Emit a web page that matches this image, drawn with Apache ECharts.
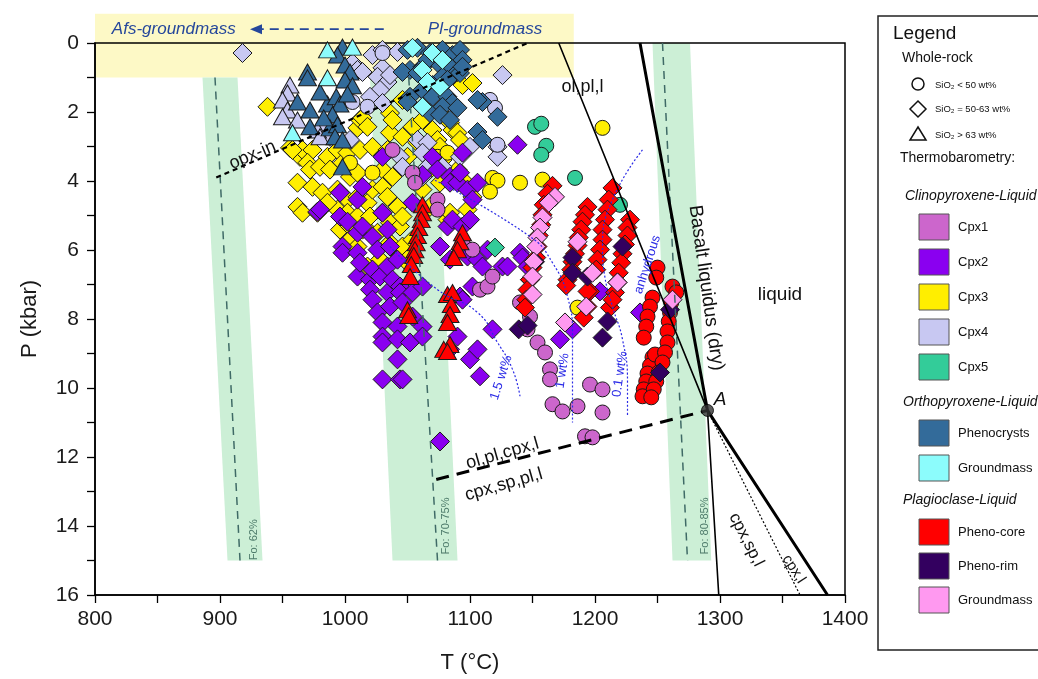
<!DOCTYPE html>
<html><head><meta charset="utf-8">
<script src="https://cdn.jsdelivr.net/npm/echarts@6/dist/echarts.min.js"></script>
<style>html,body{margin:0;padding:0;background:#fff}#c{width:1038px;height:679px}</style>
</head><body><div id="c"></div>
<script>
// ---------------- DATA (T in °C, P in kbar) ----------------
const xTickValues = [800, 900, 1000, 1100, 1200, 1300, 1400];
const yTickValues = [0, 2, 4, 6, 8, 10, 12, 14, 16];

// Clinopyroxene-liquid
const cpx1Circle = [[1038,3.10],[1054,3.76],[1056,4.05],[1074,4.54],[1074,4.83],[1094,5.79],[1102,5.99],[1108,7.15],[1114,7.06],[1118,6.77],[1140,7.52],[1148,7.93],[1146,8.30],[1154,8.68],[1160,8.97],[1164,9.46],[1164,9.75],[1166,10.47],[1174,10.68],[1186,10.53],[1196,9.90],[1206,10.04],[1206,10.71],[1192,11.40],[1198,11.43]];
const cpx2Diamond = [[978,4.89],[980,4.83],[996,4.34],[996,5.03],[998,5.90],[998,6.08],[1002,5.18],[1010,4.54],[1010,5.50],[1010,6.08],[1010,6.77],[1012,6.37],[1014,4.17],[1014,5.32],[1020,6.86],[1020,7.15],[1022,5.61],[1022,6.57],[1022,7.44],[1026,5.99],[1026,7.81],[1028,6.77],[1030,3.30],[1030,4.92],[1030,8.10],[1030,8.51],[1030,8.68],[1030,9.75],[1034,5.41],[1034,6.48],[1034,7.23],[1036,5.90],[1036,7.64],[1038,6.86],[1042,6.28],[1042,8.22],[1042,8.59],[1042,9.17],[1044,7.06],[1044,7.23],[1044,9.75],[1046,7.52],[1052,8.68],[1054,4.63],[1054,7.23],[1054,7.93],[1062,3.82],[1062,7.06],[1062,8.22],[1062,8.51],[1070,3.30],[1074,3.67],[1076,5.90],[1076,11.55],[1082,5.32],[1084,3.88],[1084,4.05],[1084,6.28],[1084,8.88],[1086,5.12],[1090,4.05],[1090,8.51],[1092,3.76],[1092,7.35],[1094,3.18],[1094,5.32],[1094,7.44],[1098,4.25],[1098,6.19],[1100,5.12],[1100,9.17],[1102,4.54],[1102,7.06],[1106,4.05],[1106,6.28],[1106,8.88],[1108,9.66],[1110,6.48],[1114,5.99],[1118,8.30],[1126,6.48],[1130,6.48],[1138,2.95],[1140,6.08],[1142,6.22],[1146,6.48],[1148,6.86],[1172,8.59],[1182,8.30],[1204,7.20],[1236,7.81],[1046,9.75]];
const cpx3Diamond = [[938,1.85],[956,3.04],[964,3.30],[962,4.05],[962,4.75],[966,4.92],[966,3.10],[974,3.10],[970,3.47],[972,3.67],[974,4.17],[978,4.92],[980,3.59],[982,4.34],[986,3.30],[988,3.67],[994,3.10],[994,4.25],[994,4.83],[996,5.41],[998,3.47],[1002,3.18],[1002,4.54],[1002,4.92],[1004,3.88],[1004,5.32],[1004,5.70],[1010,2.46],[1010,3.76],[1010,4.46],[1010,5.03],[1010,5.90],[1012,2.23],[1012,3.10],[1014,2.17],[1014,5.41],[1018,2.43],[1018,4.63],[1018,5.41],[1018,6.48],[1020,5.03],[1022,3.01],[1022,4.25],[1026,5.50],[1028,6.28],[1030,3.67],[1030,4.17],[1030,4.92],[1034,3.10],[1034,4.46],[1036,2.03],[1036,2.60],[1036,5.21],[1036,5.79],[1038,2.23],[1038,3.88],[1042,4.75],[1042,6.08],[1044,5.32],[1044,6.19],[1046,1.65],[1046,2.72],[1046,3.59],[1046,5.03],[1046,5.90],[1050,3.30],[1050,6.37],[1052,6.19],[1054,2.43],[1054,5.70],[1058,2.89],[1058,3.96],[1062,2.23],[1062,4.25],[1068,3.67],[1068,4.75],[1070,2.52],[1074,2.81],[1076,3.01],[1076,4.05],[1078,3.39],[1082,2.23],[1082,5.12],[1084,2.31],[1084,4.92],[1086,2.52],[1090,2.60],[1090,3.67],[1092,2.81],[1094,1.22],[1094,3.96],[1098,4.83],[1102,1.16],[1102,4.46],[986,4.63],[958,3.10]];
const cpx3Circle = [[1206,2.46],[1158,3.96],[1140,4.05],[1118,3.91],[1122,3.99],[1116,4.31],[1074,3.30],[1022,3.76],[1004,3.47],[1186,7.67],[1082,3.18]];
const cpx4Diamond = [[918,0.29],[1006,0.58],[1010,0.78],[1014,0.84],[1022,0.35],[1030,0.20],[1042,0.26],[1030,0.72],[1026,0.98],[1034,1.13],[1036,0.93],[1028,1.36],[1020,1.56],[1030,1.74],[1126,0.93],[1058,2.81],[1066,2.89],[1062,3.18],[1066,3.59],[1062,3.88],[1044,3.30],[1046,3.59],[1078,3.59],[1092,3.30],[1100,3.01],[1122,3.01],[1122,3.30],[1004,2.81],[982,2.52],[988,2.72]];
const cpx4Circle = [[1030,0.29],[1006,1.71],[1018,1.85],[1116,1.65],[1120,1.88],[1122,2.95]];
const cpx4Triangle = [[956,1.22],[954,1.45],[950,1.65],[954,1.94],[950,2.14],[962,2.23],[978,2.52],[980,2.72]];
const cpx5Circle = [[1152,2.43],[1157,2.34],[1161,2.98],[1157,3.24],[1184,3.91],[1220,4.69]];
const cpx5Diamond = [[1120,5.93]];

// Orthopyroxene-liquid
const opxPhenoTriangle = [[998,0.12],[994,0.35],[1000,0.64],[1004,0.84],[970,0.84],[970,1.01],[1000,1.07],[1006,1.24],[962,1.71],[972,1.94],[986,1.77],[993,1.56],[996,1.77],[1002,1.48],[990,2.08],[988,2.46],[994,2.37],[992,2.72],[998,2.81],[972,2.43],[998,3.59],[980,1.42],[983,2.17]];
const opxPhenoDiamond = [[1050,0.20],[1058,0.14],[1068,0.29],[1078,0.20],[1086,0.35],[1092,0.20],[1094,0.49],[1052,0.78],[1046,0.84],[1062,0.69],[1076,0.64],[1084,0.69],[1090,0.84],[1078,0.98],[1070,1.22],[1062,1.36],[1052,1.56],[1070,1.56],[1082,1.56],[1086,1.74],[1078,1.85],[1062,1.85],[1068,2.03],[1076,2.08],[1084,2.23],[1090,1.88],[1050,1.71],[1058,0.87],[1066,0.49],[1092,0.87],[1082,1.07],[1110,1.71],[1106,1.65],[1122,2.14],[1106,2.58],[1110,2.81],[1094,0.69]];
const opxGmTriangle = [[986,0.20],[986,1.01],[958,2.60],[1006,0.12]];
const opxGmDiamond = [[1070,0.29],[1078,0.49],[1062,0.78],[1066,1.13],[1076,1.27],[1062,1.85],[1054,0.14]];

// Plagioclase-liquid
const plCoreTriangle = [[1062,4.69],[1062,4.92],[1061,5.12],[1059,5.35],[1058,5.58],[1057,5.79],[1056,5.99],[1055,6.16],[1053,6.42],[1052,6.77],[1050,7.73],[1051,7.90],[1094,5.50],[1092,5.76],[1090,5.99],[1087,6.22],[1082,7.29],[1086,7.23],[1085,7.58],[1084,7.87],[1082,8.10],[1084,8.74],[1079,8.88],[1082,8.94]];
const plCoreDiamond = [[1166,4.14],[1162,4.37],[1159,4.69],[1158,4.98],[1157,5.27],[1155,5.58],[1154,5.90],[1153,6.22],[1150,6.51],[1148,6.86],[1146,7.15],[1145,7.44],[1144,7.67],[1194,4.75],[1192,4.98],[1190,5.18],[1189,5.41],[1187,5.64],[1186,5.87],[1184,6.11],[1182,6.34],[1181,6.57],[1178,6.86],[1177,7.03],[1196,7.20],[1194,7.64],[1191,7.96],[1214,4.20],[1211,4.54],[1210,4.83],[1208,5.12],[1206,5.41],[1206,5.70],[1204,5.99],[1202,6.28],[1201,6.57],[1194,7.20],[1212,7.67],[1228,5.12],[1226,5.35],[1226,5.58],[1224,5.84],[1222,6.11],[1221,6.37],[1219,6.66],[1218,6.94],[1216,7.23],[1214,7.44]];
const plCoreCircle = [[1250,6.51],[1249,6.80],[1246,7.38],[1244,7.64],[1242,7.93],[1241,8.22],[1239,8.54],[1246,9.11],[1244,9.35],[1242,9.58],[1241,9.81],[1239,10.04],[1238,10.24],[1248,9.03],[1262,7.06],[1265,7.23],[1261,7.52],[1260,7.81],[1259,8.07],[1258,8.36],[1258,8.68],[1256,8.97],[1254,9.26],[1251,9.55],[1249,9.81],[1247,10.04],[1245,10.27]];
const plRimDiamond = [[1152,6.34],[1139,8.30],[1146,8.19],[1182,6.22],[1182,6.66],[1194,6.77],[1210,8.07],[1206,8.54],[1222,5.90],[1260,7.73],[1252,9.55]];
const plGmDiamond = [[1168,4.46],[1163,4.63],[1158,5.06],[1156,5.35],[1154,5.64],[1153,5.90],[1151,6.34],[1150,6.77],[1150,7.29],[1176,8.10],[1186,5.76],[1198,6.66],[1193,7.64],[1218,6.94],[1262,7.44]];

// Phase boundaries and isopleths
const olPlBoundary = [[1171,0],[1290,10.65],[1299,16]];
const basaltLiquidus = [[1236,0],[1290,10.65],[1386,16]];
const cpxLiquidDotted = [[1290,10.65],[1364,16]];
const spinelInBoundary = [[1073,12.65],[1290,10.65]];
const opxIn = [[897,3.9],[1146,0]];
const pointA = [[1290,10.65]];
const h2o15 = [[1036,5.9],[1074,7.15],[1106,7.81],[1122,8.68],[1134,9.46],[1140,10.24]];
const h2o1 = [[1072,3.98],[1148,5.61],[1166,6.37],[1178,7.35],[1182,8.51],[1182,11.0]];
const h2o01 = [[1238,3.1],[1214,4.54],[1206,5.9],[1208,6.8],[1214,7.64],[1222,8.59],[1226,9.84],[1226,10.82]];
const foBands = [
  {label:'Fo: 62%',    poly:[[886,1],[914,1],[934,15],[906,15]],     mid:[[896,1],[916,15]]},
  {label:'Fo: 70-75%', poly:[[1020,1],[1072,1],[1090,15],[1038,15]], mid:[[1051,1],[1074,15]]},
  {label:'Fo: 80-85%', poly:[[1246,0],[1276,0],[1293,15],[1262,15]], mid:[[1254,0],[1274,15]]}
];
const groundmassBox = [[800,-0.85],[1183,1.0]];

// ---------------- STYLE ----------------
const FONT = 'Liberation Sans, Arial, sans-serif';
const C = {
  cpx1:'#cc66cc', cpx2:'#8a00f0', cpx3:'#ffee00', cpx4:'#c8c8f2', cpx5:'#33cc99',
  opxP:'#336b9a', opxG:'#8cfcfc', plC:'#ff0000', plR:'#33005f', plG:'#ff99f0'
};
const SZ = {circle:15, diamond:19, triangle:[18,16]};

function scat(data, shape, color){
  return {type:'scatter', data:data, symbol:shape, symbolSize:SZ[shape],
    itemStyle:{color:color, borderColor:'#1a1a1a', borderWidth:1, opacity:1},
    emphasis:{disabled:true}, z:3, animation:false};
}
function line(data, color, width, type, smooth){
  return {type:'line', data:data, showSymbol:false, symbol:'none', smooth:smooth||false,
    lineStyle:{color:color, width:width, type:type}, z:4, animation:false, silent:true};
}

const series = [
  line(foBands[0].mid,'#3f6a66',1.5,[8,6]),
  line(foBands[1].mid,'#3f6a66',1.5,[8,6]),
  line(foBands[2].mid,'#3f6a66',1.5,[8,6]),
  line(h2o15,'#2b2be6',1.2,[2,2],0.5),
  line(h2o1,'#2b2be6',1.2,[2,2],0.5),
  line(h2o01,'#2b2be6',1.2,[2,2],0.5),
  line(opxIn,'#000',2.2,[5,4]),
  scat(cpx3Diamond,'diamond',C.cpx3),
  scat(cpx3Circle,'circle',C.cpx3),
  scat(cpx4Diamond,'diamond',C.cpx4),
  scat(cpx4Circle,'circle',C.cpx4),
  scat(cpx4Triangle,'triangle',C.cpx4),
  scat(cpx2Diamond,'diamond',C.cpx2),
  scat(cpx1Circle,'circle',C.cpx1),
  scat(cpx5Circle,'circle',C.cpx5),
  scat(cpx5Diamond,'diamond',C.cpx5),
  scat(opxPhenoDiamond,'diamond',C.opxP),
  scat(opxPhenoTriangle,'triangle',C.opxP),
  scat(opxGmDiamond,'diamond',C.opxG),
  scat(opxGmTriangle,'triangle',C.opxG),
  scat(plCoreTriangle,'triangle',C.plC),
  scat(plCoreDiamond,'diamond',C.plC),
  scat(plCoreCircle,'circle',C.plC),
  scat(plRimDiamond,'diamond',C.plR),
  scat(plGmDiamond,'diamond',C.plG),
  line(olPlBoundary,'#000',1.6,'solid'),
  line(basaltLiquidus,'#000',3,'solid'),
  line(cpxLiquidDotted,'#000',1.2,[2,2]),
  line(spinelInBoundary,'#000',3,[13,8]),
  {type:'scatter', data:pointA, symbol:'circle', symbolSize:12, itemStyle:{color:'#333', borderColor:'#000', borderWidth:1}, z:6, animation:false, silent:true}
];

function axisCommon(margin){
  return {
    axisLine:{show:true, onZero:false, lineStyle:{color:'#000', width:1.5}},
    axisTick:{show:true, inside:false, length:8, lineStyle:{color:'#000', width:1.3}},
    minorTick:{show:true, splitNumber:2, length:8, lineStyle:{color:'#000', width:1.3}},
    splitLine:{show:false}, minorSplitLine:{show:false},
    axisLabel:{color:'#1a1a1a', fontSize:21, fontFamily:FONT, margin:margin, formatter:v=>String(v)},
    nameTextStyle:{color:'#1a1a1a', fontSize:22, fontFamily:FONT}
  };
}

const option = {
  animation:false,
  backgroundColor:'#fff',
  grid:{left:95, right:193, top:43, bottom:83, show:true, borderColor:'#000', borderWidth:1.5, backgroundColor:'transparent'},
  xAxis:Object.assign({type:'value', min:800, max:1400, interval:100, name:'T (°C)', nameLocation:'middle', nameGap:57}, axisCommon(14)),
  yAxis:Object.assign({type:'value', min:0, max:16, interval:2, inverse:true, name:'P (kbar)', nameLocation:'middle', nameGap:54}, axisCommon(16)),
  series:series
};

const chart = echarts.init(document.getElementById('c'), null, {renderer:'canvas'});
chart.setOption(option);

// ---------------- ANNOTATIONS & LEGEND ----------------
const px = p => chart.convertToPixel({gridIndex:0}, p);
const g = [];
(function(){
  const a = px(groundmassBox[0]), b = px(groundmassBox[1]);
  g.push({type:'rect', z:-1, silent:true, shape:{x:a[0], y:a[1], width:b[0]-a[0], height:b[1]-a[1]}, style:{fill:'#fdf9c6'}});
})();
foBands.forEach(b=>{
  g.push({type:'polygon', z:-1, silent:true, shape:{points:b.poly.map(px)}, style:{fill:'#ccefd6'}});
});
function txt(p, text, opt){
  const q = px(p);
  g.push({type:'text', z:50, silent:true, x:q[0], y:q[1], rotation:(opt.rot||0)*Math.PI/180,
    style:{text:text, fill:opt.color||'#111', font:(opt.italic?'italic ':'')+(opt.size||18)+'px '+FONT, align:'center', verticalAlign:'middle'}});
}
txt([927,14.4], 'Fo: 62%', {size:11, color:'#4d7a6a', rot:90});
txt([1081,14.0], 'Fo: 70-75%', {size:11, color:'#4d7a6a', rot:90});
txt([1288,14.0], 'Fo: 80-85%', {size:11, color:'#4d7a6a', rot:90});
txt([1190,1.27], 'ol,pl,l', {size:18});
txt([1289,7.1], 'Basalt liquidus (dry)', {size:19, rot:-82});
txt([1348,7.3], 'liquid', {size:19});
txt([1300,10.33], 'A', {size:19, italic:true});
txt([1126,11.9], 'ol,pl,cpx,l', {size:18, rot:16});
txt([1127,12.8], 'cpx,sp,pl,l', {size:18, rot:16});
txt([1321,14.4], 'cpx,sp,l', {size:17, rot:-63});
txt([1359,15.25], 'cpx,l', {size:15, rot:-57});
txt([926,3.25], 'opx-in', {size:18, rot:23});
txt([1125,9.7], '1.5 wt%', {size:13, color:'#2b2be6', rot:72});
txt([1174,9.5], '1 wt%', {size:13, color:'#2b2be6', rot:82});
txt([1220,9.6], '0.1 wt%', {size:13, color:'#2b2be6', rot:82});
txt([1242,6.42], 'anhydrous', {size:13, color:'#2b2be6', rot:72});
txt([863,-0.4], 'Afs-groundmass', {size:17, color:'#25479b', italic:true});
txt([1112,-0.4], 'Pl-groundmass', {size:17, color:'#25479b', italic:true});
(function(){
  const a = px([1031,-0.4]), b = px([924,-0.4]);
  g.push({type:'line', z:50, silent:true, shape:{x1:a[0], y1:a[1], x2:b[0]+8, y2:b[1]}, style:{stroke:'#25479b', lineWidth:1.8, lineDash:[9,6]}});
  g.push({type:'polygon', z:50, silent:true, shape:{points:[[b[0],b[1]],[b[0]+12,b[1]-5],[b[0]+12,b[1]+5]]}, style:{fill:'#25479b'}});
})();

// Legend (fixed layout box on the right)
const LX = 878, LY = 16;
g.push({type:'rect', z:20, silent:true, shape:{x:LX, y:LY, width:200, height:634}, style:{fill:'#fff', stroke:'#222', lineWidth:1.5}});
function ltxt(x,y,text,size,italic){
  g.push({type:'text', z:21, silent:true, x:x, y:y, style:{text:text, fill:'#111', font:(italic?'italic ':'')+size+'px '+FONT, align:'left', verticalAlign:'middle'}});
}
ltxt(893,34,'Legend',19);
ltxt(902,58,'Whole-rock',14);
g.push({type:'circle', z:21, silent:true, shape:{cx:918, cy:84, r:6}, style:{fill:'#fff', stroke:'#111', lineWidth:1.5}});
ltxt(935,85,'SiO₂ < 50 wt%',9.5);
g.push({type:'polygon', z:21, silent:true, shape:{points:[[918,101],[926,109],[918,117],[910,109]]}, style:{fill:'#fff', stroke:'#111', lineWidth:1.5}});
ltxt(935,109,'SiO₂ = 50-63 wt%',9.5);
g.push({type:'polygon', z:21, silent:true, shape:{points:[[918,127],[926,140],[910,140]]}, style:{fill:'#fff', stroke:'#111', lineWidth:1.5}});
ltxt(935,135,'SiO₂ > 63 wt%',9.5);
ltxt(900,158,'Thermobarometry:',14);
ltxt(905,196,'Clinopyroxene-Liquid',14,true);
const legendRows = [
  ['Cpx1',C.cpx1,227],['Cpx2',C.cpx2,262],['Cpx3',C.cpx3,297],['Cpx4',C.cpx4,332],['Cpx5',C.cpx5,367],
  ['Phenocrysts',C.opxP,433],['Groundmass',C.opxG,468],
  ['Pheno-core',C.plC,532],['Pheno-rim',C.plR,566],['Groundmass',C.plG,600]
];
ltxt(903,402,'Orthopyroxene-Liquid',14,true);
ltxt(903,500,'Plagioclase-Liquid',14,true);
legendRows.forEach(r=>{
  g.push({type:'rect', z:21, silent:true, shape:{x:919, y:r[2]-13, width:30, height:26}, style:{fill:r[1], stroke:'#555', lineWidth:1}});
  ltxt(958, r[2], r[0], 13);
});

chart.setOption({graphic:{elements:g}});
</script>
</body></html>
